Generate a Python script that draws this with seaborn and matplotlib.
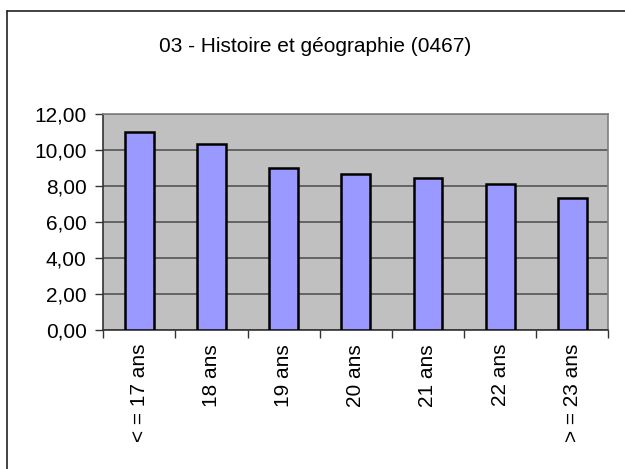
import numpy as np
import pandas as pd
import seaborn as sns
import matplotlib.pyplot as plt
from matplotlib.ticker import FuncFormatter, FixedLocator
from matplotlib.lines import Line2D

# values
categories = ["< = 17 ans", "18 ans", "19 ans", "20 ans", "21 ans", "22 ans", "> = 23 ans"]
values = [10.99, 10.32, 8.97, 8.64, 8.42, 8.10, 7.31]
y_ticks = [0, 2, 4, 6, 8, 10, 12]
title = "03 - Histoire et géographie (0467)"

sns.set_style("white")
plt.rcParams["font.family"] = ["Liberation Sans", "DejaVu Sans"]

df = pd.DataFrame({"age": categories, "moyenne": values})

fig = plt.figure(figsize=(6.25, 4.69), dpi=100)
ax = fig.add_axes([0.1653, 0.2964, 0.808, 0.4612])
ax.set_facecolor("#C0C0C0")

sns.barplot(data=df, x="age", y="moyenne", color="#9999FF", saturation=1,
            edgecolor="black", linewidth=1.8, width=0.4, ax=ax, zorder=3)

ax.set_ylim(0, 12)
ax.set_xlim(-0.5, len(categories) - 0.5)
ax.yaxis.set_major_locator(FixedLocator(y_ticks))
ax.yaxis.set_major_formatter(FuncFormatter(lambda v, p: f"{v:.2f}".replace(".", ",")))
ax.yaxis.grid(True, color="#555555", linewidth=1.2, zorder=1)
ax.set_axisbelow(True)

ax.set_xlabel("")
ax.set_ylabel("")
ax.tick_params(axis="y", which="major", direction="out", length=6, width=1,
               color="#333333", labelsize=15, pad=6, left=True, labelcolor="black")
ax.tick_params(axis="x", which="major", length=0, labelsize=15, pad=10,
               labelrotation=90, labelcolor="black")
ax.xaxis.set_minor_locator(FixedLocator(np.arange(-0.5, len(categories), 1)))
ax.tick_params(axis="x", which="minor", direction="out", length=6, width=1,
               color="#333333", bottom=True)
for lab in ax.get_xticklabels():
    lab.set_verticalalignment("top")

for side in ["top", "right"]:
    ax.spines[side].set_color("#808080")
    ax.spines[side].set_linewidth(1.2)
for side in ["left", "bottom"]:
    ax.spines[side].set_color("#333333")
    ax.spines[side].set_linewidth(1.2)

fig.text(0.504, 0.8998, title, ha="center", va="center", fontsize=15, color="black")

# chart area border (Excel style), extending past right/bottom edges
fig.add_artist(Line2D([7 / 625, 7 / 625], [0, 1 - 11 / 469], color="#222222",
                      linewidth=1.2, transform=fig.transFigure))
fig.add_artist(Line2D([7 / 625, 1], [1 - 11 / 469, 1 - 11 / 469], color="#222222",
                      linewidth=1.2, transform=fig.transFigure))

fig.savefig("out.png", dpi=100)
plt.close(fig)
